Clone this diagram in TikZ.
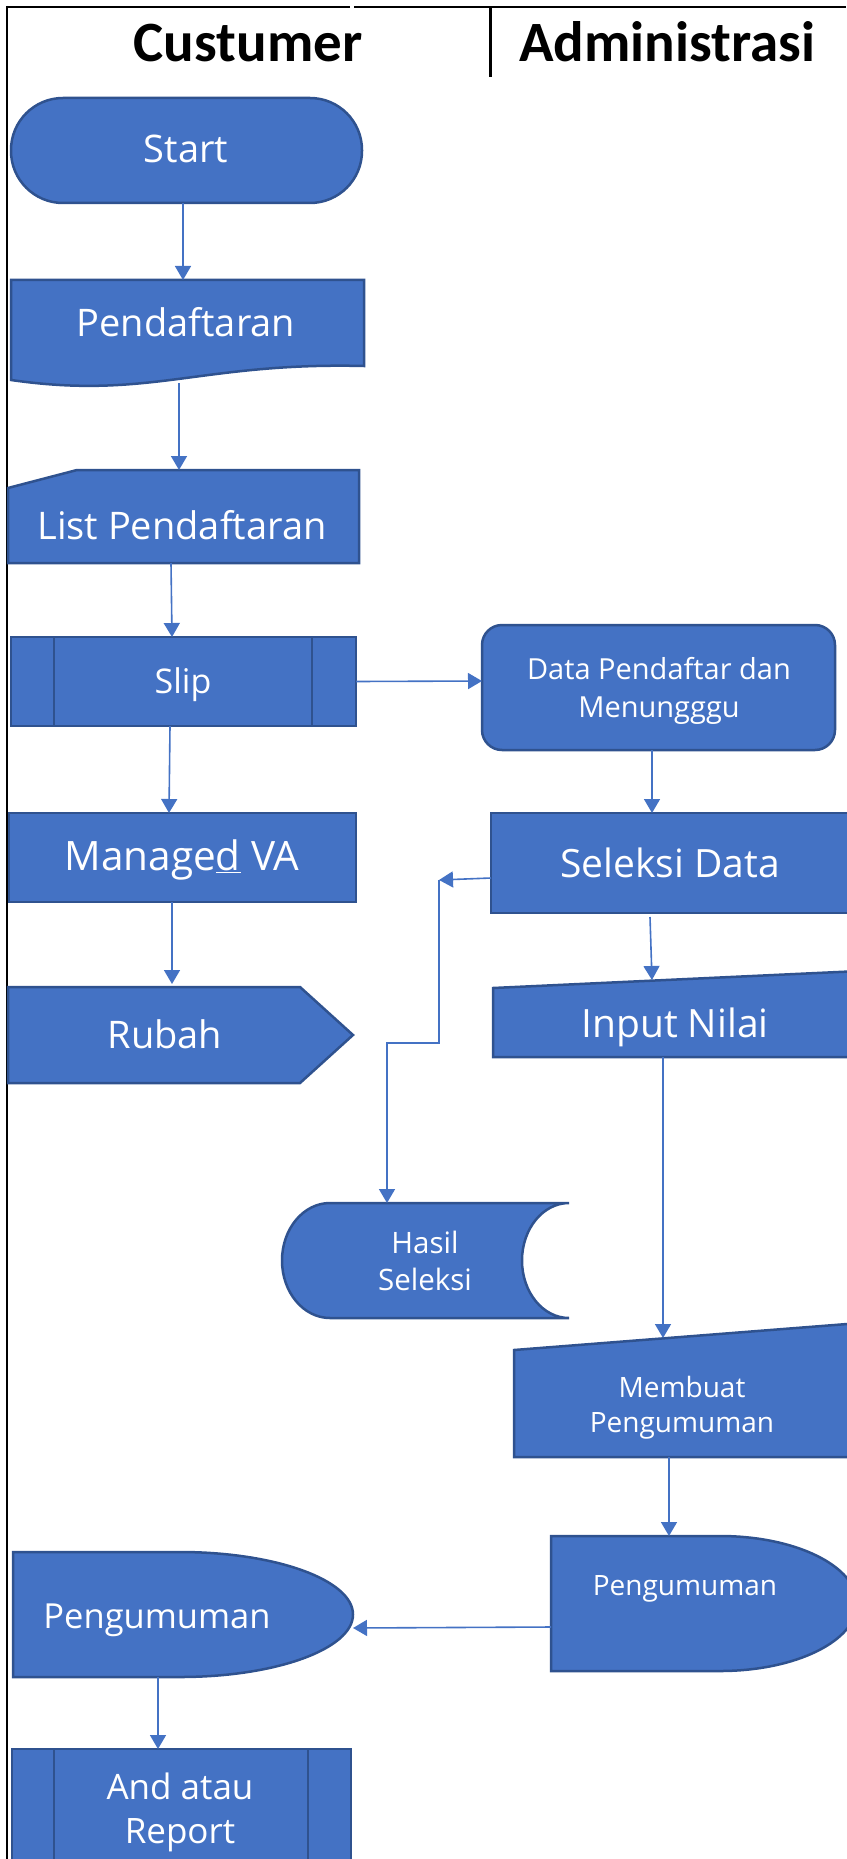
\documentclass[tikz,border=0pt]{standalone}
\usepackage{fontspec}
\setmainfont{Open Sans}
\newfontfamily\headfont{Carlito}
\usetikzlibrary{arrows.meta}
\definecolor{boxblue}{HTML}{4472C4}
\definecolor{edgeblue}{HTML}{2F528F}
\definecolor{arrowblue}{HTML}{4472C4}
\tikzset{
  shp/.style={fill=boxblue, draw=edgeblue, line width=2.5pt, line join=miter},
  bb/.style={rectangle, inner sep=0pt, outer sep=0pt, draw=none},
  lbl/.style={text=white, inner sep=0pt, anchor=base},
  arr/.style={draw=arrowblue, line width=1.6pt, -{Triangle[width=16pt,length=14pt]}},
  frameline/.style={draw=black, line width=2pt},
  head/.style={inner sep=0pt, anchor=base, font=\headfont\bfseries\fontsize{57pt}{60pt}\selectfont},
}
\begin{document}
\begin{tikzpicture}[x=1pt,y=-1pt]
\useasboundingbox (0,0) rectangle (846,1859);

% frame and headers
\draw[frameline] (7,7) -- (350,7);
\draw[frameline] (354,7) -- (846,7);
\draw[frameline] (7,6) -- (7,1859);
\draw[black, line width=3pt] (490,7) -- (490,77);
\node[head] (hcust) at (248,62) {Custumer};
\node[head] (hadm) at (667,62) {Administrasi};

% bounding nodes
\node[bb, minimum width=351pt, minimum height=105pt] (start) at (186.5,150.5) {};
\node[bb, minimum width=353pt, minimum height=105pt] (pend) at (187.5,332.5) {};
\node[bb, minimum width=351pt, minimum height=93pt] (list) at (183.5,516.5) {};
\node[bb, minimum width=345pt, minimum height=89pt] (slip) at (183.5,681.5) {};
\node[bb, minimum width=353pt, minimum height=125pt] (data) at (658.5,687.5) {};
\node[bb, minimum width=347pt, minimum height=89pt] (man) at (182.5,857.5) {};
\node[bb, minimum width=345pt, minimum height=96pt] (rub) at (180.5,1035) {};
\node[bb, minimum width=355pt, minimum height=100pt] (sel) at (668.5,863) {};
\node[bb, minimum width=353pt, minimum height=85pt] (inp) at (669.5,1014.5) {};
\node[bb, minimum width=287pt, minimum height=115pt] (has) at (425.5,1260.5) {};
\node[bb, minimum width=332pt, minimum height=133pt] (mem) at (680,1390.5) {};
\node[bb, minimum width=306pt, minimum height=135pt] (pengR) at (704,1603.5) {};
\node[bb, minimum width=340pt, minimum height=125pt] (pengL) at (183,1614.5) {};
\node[bb, minimum width=339pt, minimum height=131pt] (andr) at (181.5,1814.5) {};

% shapes
\draw[shp, rounded corners=52pt] (start.north west) rectangle (start.south east);
\draw[shp] (11,280) -- (364,280) -- (364,366) .. controls (200,362) and (150,400) .. (11,380) -- cycle;
\draw[shp] (8,488) -- (77,470) -- (359,470) -- (359,563) -- (8,563) -- cycle;
\draw[shp] (slip.north west) rectangle (slip.south east);
\draw[shp, fill=none] (54,637) -- (54,726) (312,637) -- (312,726);
\draw[shp, rounded corners=20pt] (data.north west) rectangle (data.south east);
\draw[shp] (man.north west) rectangle (man.south east);
\draw[shp] (8,987) -- (300,987) -- (353,1035) -- (300,1083) -- (8,1083) -- cycle;
\draw[shp] (491,813) rectangle (860,913);
\draw[shp] (493,988) -- (860,971) -- (860,1057) -- (493,1057) -- cycle;
\draw[shp] (330,1203) -- (569,1203) .. controls (543,1203) and (522,1228.7) .. (522,1260.5)
  .. controls (522,1292.3) and (543,1318) .. (569,1318) -- (330,1318)
  .. controls (303.5,1318) and (282,1292.3) .. (282,1260.5)
  .. controls (282,1228.7) and (303.5,1203) .. (330,1203) -- cycle;
\draw[shp] (514,1350) -- (860,1323) -- (860,1457) -- (514,1457) -- cycle;
\draw[shp] (551,1536) -- (720,1536) .. controls (795.7,1536) and (857,1566.2) .. (857,1603.5)
  .. controls (857,1640.8) and (795.7,1671) .. (720,1671) -- (551,1671) -- cycle;
\draw[shp] (13,1552) -- (180,1552) .. controls (275.5,1552) and (353,1580) .. (353,1614.5)
  .. controls (353,1649) and (275.5,1677) .. (180,1677) -- (13,1677) -- cycle;
\draw[shp] (andr.north west) rectangle (andr.south east);
\draw[shp, fill=none] (54,1749) -- (54,1880) (308,1749) -- (308,1880);

% connectors
\draw[arr] ([xshift=-3.5pt]start.south) -- ([xshift=-4.5pt]pend.north);
\draw[arr] ([xshift=-8.5pt,yshift=2pt]pend.south) -- ([xshift=-4.5pt]list.north);
\draw[arr] ([xshift=-12.5pt]list.south) -- ([xshift=-11.5pt]slip.north);
\draw[arr] (slip.east) -- ([yshift=6.5pt]data.west);
\draw[arr] ([xshift=-13.5pt]slip.south) -- ([xshift=-13.5pt]man.north);
\draw[arr] ([xshift=-10.5pt]man.south) -- ([xshift=-8.5pt,yshift=3pt]rub.north);
\draw[arr] ([xshift=-6.5pt]data.south) -- ([xshift=-16.5pt]sel.north);
\coordinate (bend) at (439,880);
\coordinate (bend2) at (387,1043);
\draw[arr] ([yshift=-15pt]sel.west) -- (bend);
\draw[arr] (bend) |- (bend2) -- (bend2 |- has.north);
\draw[arr] ([xshift=-18.5pt,yshift=-4pt]sel.south) -- ([xshift=-17.5pt,yshift=-8pt]inp.north);
\draw[arr] ([xshift=-6.5pt]inp.south) -- ([xshift=-17pt,yshift=-14pt]mem.north);
\draw[arr] ([xshift=-11pt]mem.south) -- ([xshift=-35pt]pengR.north);
\draw[arr] ([yshift=-23.5pt]pengR.west) -- ([yshift=-13.5pt]pengL.east);
\draw[arr] ([xshift=-25pt]pengL.south) -- ([xshift=-23.5pt]andr.north);

% labels
\node[lbl, font=\fontsize{38pt}{46pt}\selectfont] (startT) at (186,163) {Start};
\node[lbl, font=\fontsize{38pt}{46pt}\selectfont] (pendT) at (186,337) {Pendaftaran};
\node[lbl, font=\fontsize{38pt}{46pt}\selectfont] (listT) at (182,539) {List Pendaftaran};
\node[lbl, font=\fontsize{34pt}{40pt}\selectfont] (slipT) at (183,693) {Slip};
\node[lbl, font=\fontsize{29pt}{36pt}\selectfont] (dataT1) at (659,679) {Data Pendaftar dan};
\node[lbl, font=\fontsize{29pt}{36pt}\selectfont] (dataT2) at (659,717) {Menungggu};
\node[lbl, font=\fontsize{40.5pt}{46pt}\selectfont] (manT) at (182,870) {Manage\underline{d} VA};
\node[lbl, font=\fontsize{38pt}{46pt}\selectfont] (rubT) at (165,1048) {Rubah};
\node[lbl, font=\fontsize{39pt}{46pt}\selectfont] (selT) at (670,877) {Seleksi Data};
\node[lbl, font=\fontsize{39pt}{46pt}\selectfont] (inpT) at (675,1037) {Input Nilai};
\node[lbl, font=\fontsize{29.5pt}{36pt}\selectfont] (hasT1) at (425,1253) {Hasil};
\node[lbl, font=\fontsize{29.5pt}{36pt}\selectfont] (hasT2) at (425,1290) {Seleksi};
\node[lbl, font=\fontsize{28pt}{34pt}\selectfont] (memT1) at (682,1397) {Membuat};
\node[lbl, font=\fontsize{28pt}{34pt}\selectfont] (memT2) at (682,1432) {Pengumuman};
\node[lbl, font=\fontsize{28pt}{34pt}\selectfont] (pengRT) at (685,1595) {Pengumuman};
\node[lbl, font=\fontsize{34.5pt}{40pt}\selectfont] (pengLT) at (157,1628) {Pengumuman};
\node[lbl, font=\fontsize{35pt}{42pt}\selectfont] (andT1) at (180,1799) {And atau};
\node[lbl, font=\fontsize{35pt}{42pt}\selectfont] (andT2) at (180,1843) {Report};
\end{tikzpicture}
\end{document}
